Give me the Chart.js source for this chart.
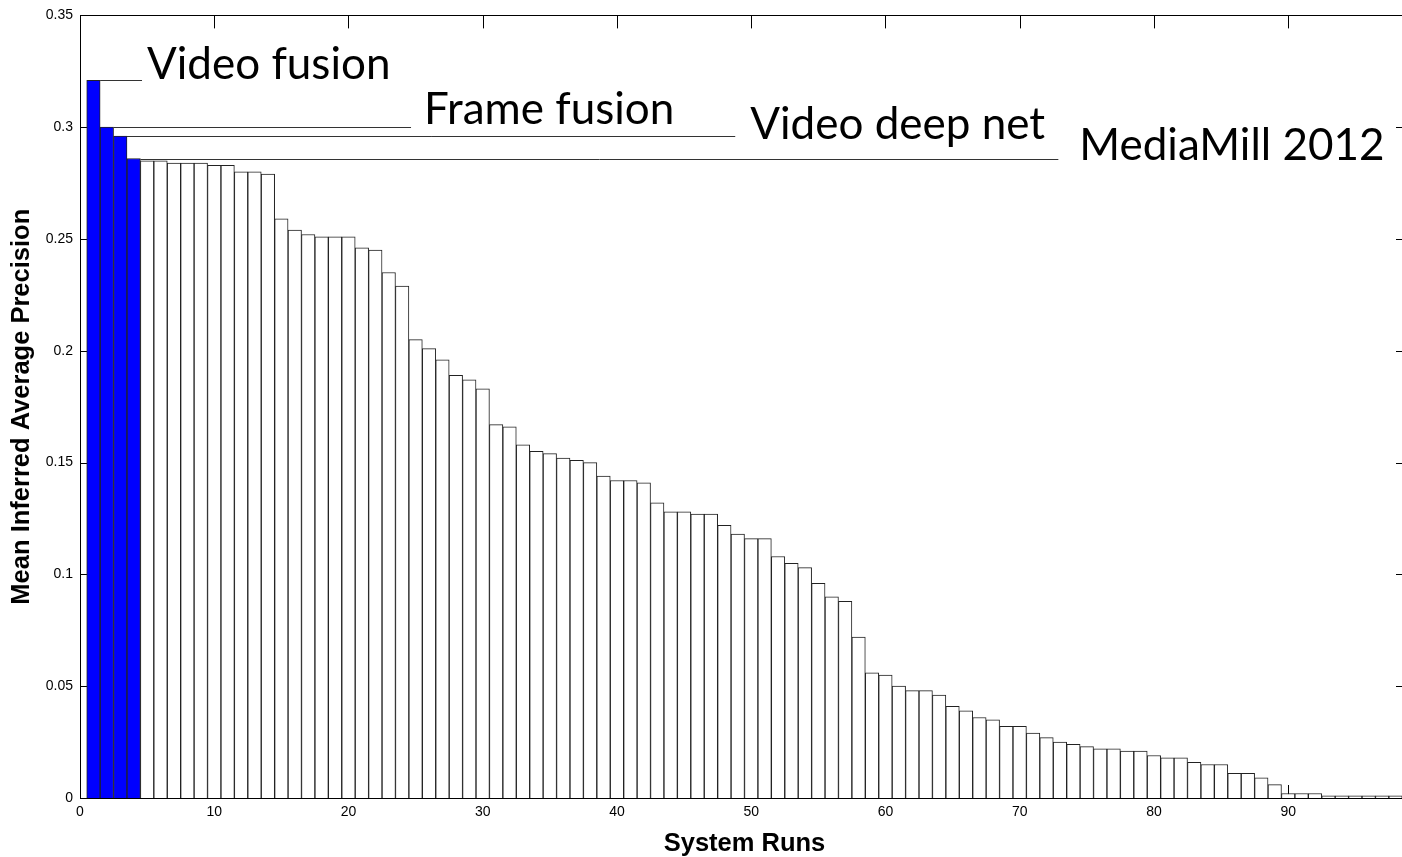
<!DOCTYPE html>
<html>
<head>
<meta charset="utf-8">
<script src="https://cdn.jsdelivr.net/npm/chart.js@4/dist/chart.umd.min.js"></script>
<style>
  html, body { margin: 0; padding: 0; background: #fff; overflow: hidden; }
  #clip { width: 1402px; height: 857px; overflow: hidden; }
  /* plot box runs slightly past the right edge, like the source figure */
  #wrap { width: 1409px; height: 857px; position: relative; }
</style>
</head>
<body>
<div id="clip"><div id="wrap"><canvas id="mapChart"></canvas></div></div>
<script>
// system runs, ranked by mean infAP
const runs = Array.from({ length: 98 }, (_, i) => i + 1);
const meanInfAP = [
  0.321, 0.300, 0.296, 0.286, 0.285, 0.285, 0.284, 0.284, 0.284, 0.283,
  0.283, 0.280, 0.280, 0.279, 0.259, 0.254, 0.252, 0.251, 0.251, 0.251,
  0.246, 0.245, 0.235, 0.229, 0.205, 0.201, 0.196, 0.189, 0.187, 0.183,
  0.167, 0.166, 0.158, 0.155, 0.154, 0.152, 0.151, 0.150, 0.144, 0.142,
  0.142, 0.141, 0.132, 0.128, 0.128, 0.127, 0.127, 0.122, 0.118, 0.116,
  0.116, 0.108, 0.105, 0.103, 0.096, 0.090, 0.088, 0.072, 0.056, 0.055,
  0.050, 0.048, 0.048, 0.046, 0.041, 0.039, 0.036, 0.035, 0.032, 0.032,
  0.029, 0.027, 0.025, 0.024, 0.023, 0.022, 0.022, 0.021, 0.021, 0.019,
  0.018, 0.018, 0.016, 0.015, 0.015, 0.011, 0.011, 0.009, 0.006, 0.002,
  0.002, 0.002, 0.001, 0.001, 0.001, 0.001, 0.001, 0.001
];
// highlighted runs (ours) and their labels
const highlightRuns = [1, 2, 3, 4];
const highlightLabels = ['Video fusion', 'Frame fusion', 'Video deep net', 'MediaMill 2012'];

const TICK_LEN = 13;

// where each label line ends / text starts (in run units), and baseline shift in px
const labelLayout = [
  { lineEnd: 4.62,  textX: 4.99,  dy: -2 },
  { lineEnd: 24.66, textX: 25.63, dy: -4 },
  { lineEnd: 48.81, textX: 49.93, dy: 2 },
  { lineEnd: 72.88, textX: 74.44, dy: 0 }
];

const axisBox = {
  id: 'axisBox',
  beforeDatasetsDraw(chart) {
    const { ctx, chartArea: a, scales: { x, y } } = chart;
    ctx.save();
    ctx.strokeStyle = '#000';
    ctx.lineWidth = 1;
    ctx.beginPath();
    x.ticks.forEach(t => {
      const px = Math.round(x.getPixelForValue(t.value)) + 0.5;
      ctx.moveTo(px, a.bottom); ctx.lineTo(px, a.bottom - TICK_LEN);
      ctx.moveTo(px, a.top); ctx.lineTo(px, a.top + TICK_LEN);
    });
    y.ticks.forEach(t => {
      const py = Math.round(y.getPixelForValue(t.value)) + 0.5;
      ctx.moveTo(a.left, py); ctx.lineTo(a.left + TICK_LEN, py);
      ctx.moveTo(a.right, py); ctx.lineTo(a.right - TICK_LEN, py);
    });
    ctx.stroke();
    ctx.restore();
  },
  afterDatasetsDraw(chart) {
    const { ctx, chartArea: a, scales: { x, y } } = chart;
    ctx.save();
    ctx.strokeStyle = '#000';
    ctx.lineWidth = 1;
    ctx.strokeRect(Math.round(a.left) + 0.5, Math.round(a.top) + 0.5,
      Math.round(a.right - a.left), Math.round(a.bottom - a.top));

    // annotation lines + labels
    ctx.strokeStyle = '#333';
    ctx.fillStyle = '#000';
    ctx.font = '44px Lato';
    ctx.textAlign = 'left';
    ctx.textBaseline = 'alphabetic';
    highlightRuns.forEach((r, i) => {
      const L = labelLayout[i];
      const py = Math.round(y.getPixelForValue(meanInfAP[r - 1])) + 0.5;
      ctx.beginPath();
      ctx.moveTo(x.getPixelForValue(r + 0.5), py);
      ctx.lineTo(x.getPixelForValue(L.lineEnd), py);
      ctx.stroke();
      ctx.fillText(highlightLabels[i], x.getPixelForValue(L.textX), py + L.dy);
    });
    ctx.restore();
  }
};

const ctx = document.getElementById('mapChart').getContext('2d');
const config = {
  type: 'bar',
  data: {
    datasets: [{
      data: runs.map((r, i) => ({ x: r, y: meanInfAP[i] })),
      backgroundColor: runs.map(r => highlightRuns.includes(r) ? '#0000ff' : '#ffffff'),
      borderColor: '#222',
      borderWidth: 1,
      barPercentage: 1,
      categoryPercentage: 1
    }]
  },
  options: {
    responsive: true,
    maintainAspectRatio: false,
    animation: false,
    layout: { padding: { top: 14, right: 0, left: 0, bottom: 0 } },
    plugins: { legend: { display: false }, tooltip: { enabled: false } },
    scales: {
      x: {
        type: 'linear',
        offset: false,
        min: 0,
        max: 99,
        grid: { display: false, drawTicks: false },
        border: { display: false },
        ticks: {
          stepSize: 10,
          includeBounds: false,
          padding: 6,
          color: '#000',
          font: { family: 'Liberation Sans', size: 14 },
          maxRotation: 0
        },
        title: {
          display: true,
          text: 'System Runs',
          color: '#000',
          font: { family: 'Liberation Sans', size: 25.5, weight: 'bold', lineHeight: 1 },
          padding: 0
        },
        afterFit(scale) { scale.height = 59; }
      },
      y: {
        min: 0,
        max: 0.35,
        grid: { display: false, drawTicks: false },
        border: { display: false },
        ticks: {
          stepSize: 0.05,
          padding: 7,
          color: '#000',
          font: { family: 'Liberation Sans', size: 14 },
          callback: v => String(+v.toFixed(2))
        },
        title: {
          display: true,
          text: 'Mean Inferred Average Precision',
          color: '#000',
          font: { family: 'Liberation Sans', size: 25.5, weight: 'bold', lineHeight: 1 },
          padding: { top: 9, bottom: 0 }
        },
        afterFit(scale) { scale.width = 80; }
      }
    }
  },
  plugins: [axisBox]
};
const myChart = new Chart(ctx, config);
</script>
</body>
</html>
